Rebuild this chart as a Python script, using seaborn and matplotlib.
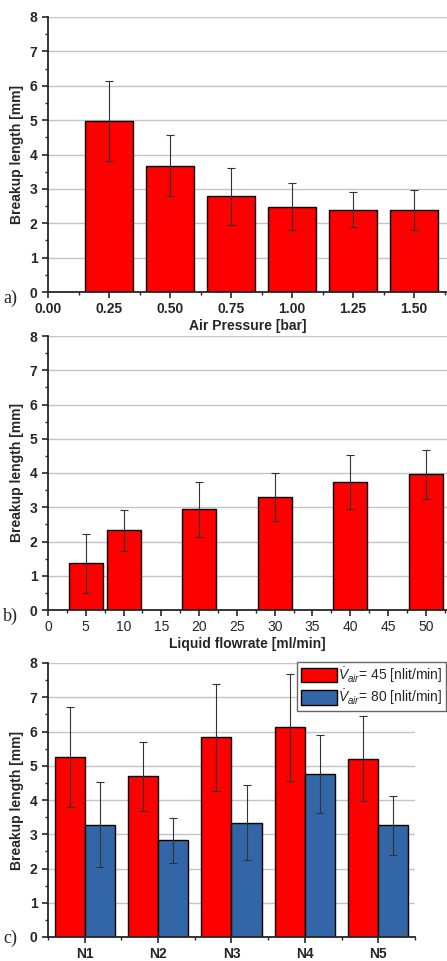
import numpy as np
import pandas as pd
import matplotlib
matplotlib.use("Agg")
import matplotlib.pyplot as plt
import seaborn as sns
from matplotlib.ticker import MultipleLocator, FormatStrFormatter

# a) breakup length vs air pressure
pressure = [0.25, 0.50, 0.75, 1.00, 1.25, 1.50]
pressure_len = [4.98, 3.68, 2.78, 2.48, 2.40, 2.38]
pressure_err = [1.16, 0.90, 0.84, 0.68, 0.50, 0.58]

# b) breakup length vs liquid flowrate
flowrate = [5, 10, 20, 30, 40, 50]
flowrate_len = [1.36, 2.33, 2.94, 3.29, 3.74, 3.96]
flowrate_err = [0.87, 0.60, 0.80, 0.70, 0.79, 0.72]

# c) nozzles at two air flowrates
nozzles = ["N1", "N2", "N3", "N4", "N5"]
len_45 = [5.26, 4.69, 5.83, 6.12, 5.21]
err_45 = [1.46, 1.01, 1.57, 1.56, 1.23]
len_80 = [3.28, 2.82, 3.34, 4.76, 3.26]
err_80 = [1.25, 0.65, 1.10, 1.15, 0.86]
air_labels = [r"$\dot{V}_{air}$= 45 [nlit/min]", r"$\dot{V}_{air}$= 80 [nlit/min]"]

sns.set_style("ticks")
plt.rcParams["font.family"] = ["Liberation Sans", "DejaVu Sans"]
plt.rcParams["mathtext.fontset"] = "custom"
plt.rcParams["mathtext.rm"] = "Liberation Sans"
plt.rcParams["mathtext.it"] = "Liberation Sans:italic"

RED = "#ff0000"
BLUE = "#3266a6"
W, H = 447, 961

fig = plt.figure(figsize=(W / 100, H / 100), dpi=100)


def add_axes(left, top, right, bottom):
    return fig.add_axes([left / W, 1 - bottom / H, (right - left) / W, (bottom - top) / H])


def style_axes(ax):
    ax.set_ylim(0, 8)
    ax.yaxis.set_major_locator(MultipleLocator(1))
    ax.yaxis.set_minor_locator(MultipleLocator(0.5))
    ax.grid(axis="y", which="major", color="#c4c4c4", linewidth=1.0)
    ax.set_axisbelow(True)
    for s in ["top", "right"]:
        ax.spines[s].set_visible(False)
    for s in ["left", "bottom"]:
        ax.spines[s].set_linewidth(1.3)
    ax.tick_params(which="major", direction="out", length=4, width=1.2, labelsize=10)
    ax.tick_params(which="minor", direction="out", length=2.5, width=1.0)
    for lab in ax.get_xticklabels() + ax.get_yticklabels():
        lab.set_fontweight("bold")
    ax.set_ylabel("Breakup length [mm]", fontsize=10, fontweight="bold", labelpad=4)


err_kw = dict(fmt="none", ecolor="#333333", elinewidth=0.8, capsize=3, capthick=0.8)

# panel a
ax1 = add_axes(48, 17, 447, 292)
sns.barplot(x=pressure, y=pressure_len, native_scale=True, color=RED, saturation=1,
            edgecolor="black", linewidth=1.0, errorbar=None, width=0.8, ax=ax1)
ax1.errorbar(pressure, pressure_len, yerr=pressure_err, **err_kw)
ax1.set_xlim(0, 1.635)
ax1.xaxis.set_major_locator(MultipleLocator(0.25))
ax1.xaxis.set_minor_locator(MultipleLocator(0.125))
ax1.xaxis.set_major_formatter(FormatStrFormatter("%.2f"))
style_axes(ax1)
ax1.set_xlabel("Air Pressure [bar]", fontsize=10, fontweight="bold", labelpad=2)

# panel b
ax2 = add_axes(48, 336, 447, 610)
sns.barplot(x=flowrate, y=flowrate_len, native_scale=True, color=RED, saturation=1,
            edgecolor="black", linewidth=1.0, errorbar=None, width=0.9, ax=ax2)
ax2.errorbar(flowrate, flowrate_len, yerr=flowrate_err, **err_kw)
ax2.set_xlim(0, 52.8)
ax2.xaxis.set_major_locator(MultipleLocator(5))
ax2.xaxis.set_minor_locator(MultipleLocator(2.5))
ax2.xaxis.set_major_formatter(FormatStrFormatter("%d"))
style_axes(ax2)
for lab in ax2.get_xticklabels():
    lab.set_fontweight("normal")
ax2.set_xlabel("Liquid flowrate [ml/min]", fontsize=10, fontweight="bold", labelpad=2)

# panel c
ax3 = add_axes(48, 663, 415, 937)
df = pd.DataFrame({
    "nozzle": nozzles * 2,
    "length": len_45 + len_80,
    "air": [air_labels[0]] * len(nozzles) + [air_labels[1]] * len(nozzles),
})
sns.barplot(data=df, x="nozzle", y="length", hue="air", palette=[RED, BLUE], saturation=1,
            edgecolor="black", linewidth=1.0, errorbar=None, width=0.82, ax=ax3)
for cont, vals, errs in zip(ax3.containers, [len_45, len_80], [err_45, err_80]):
    xs = [p.get_x() + p.get_width() / 2 for p in cont.patches]
    ax3.errorbar(xs, vals, yerr=errs, **err_kw)
ax3.set_xlim(-0.5, 4.5)
ax3.xaxis.set_minor_locator(MultipleLocator(0.5))
style_axes(ax3)
ax3.set_xlabel("")
handles, labels = ax3.get_legend_handles_labels()
ax3.legend(handles[:2], labels[:2], loc="upper right", bbox_to_anchor=(1.085, 1.005),
           fontsize=10, frameon=True, fancybox=False, edgecolor="#666666", framealpha=1,
           handlelength=2.6, handleheight=1.2, handletextpad=0.1, borderpad=0.25,
           labelspacing=0.2, borderaxespad=0)

# panel letters
fig.text(3 / W, 1 - 298 / H, "a)", family="Liberation Serif", fontsize=13, va="center")
fig.text(3 / W, 1 - 616 / H, "b)", family="Liberation Serif", fontsize=13, va="center")
fig.text(3 / W, 1 - 938 / H, "c)", family="Liberation Serif", fontsize=13, va="center")

fig.savefig("out.png", dpi=100)
